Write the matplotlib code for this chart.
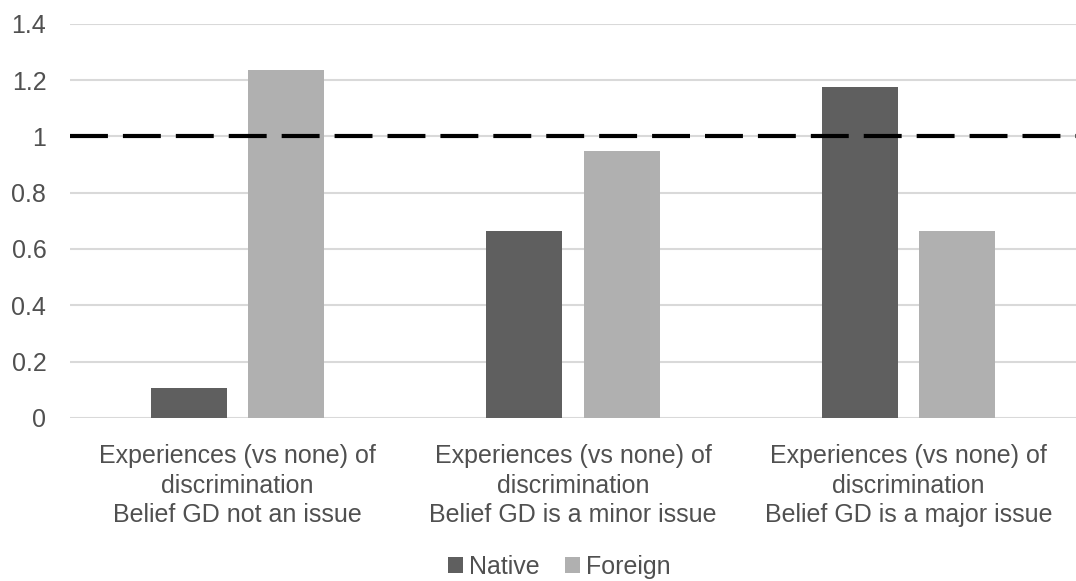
import matplotlib.pyplot as plt
import numpy as np

plt.rcParams['font.family'] = ['Liberation Sans', 'DejaVu Sans']

categories = ['Experiences (vs none) of\ndiscrimination\nBelief GD not an issue',
              'Experiences (vs none) of\ndiscrimination\nBelief GD is a minor issue',
              'Experiences (vs none) of\ndiscrimination\nBelief GD is a major issue']
native = [0.108, 0.664, 1.176]
foreign = [1.236, 0.948, 0.664]
ref_value = 1.0
yticks = [0, 0.2, 0.4, 0.6, 0.8, 1, 1.2, 1.4]
ytick_labels = ['0', '0.2', '0.4', '0.6', '0.8', '1', '1.2', '1.4']

txt = '#505050'

fig = plt.figure(figsize=(10.76, 5.81), dpi=100)
ax = fig.add_axes([0.065, 0.2806, 0.935, 0.6786])

x = np.arange(len(categories))
w = 0.227
ax.bar(x - 0.145, native, w, color='#5f5f5f', label='Native', zorder=3)
ax.bar(x + 0.145, foreign, w, color='#b0b0b0', label='Foreign', zorder=3)

line = ax.axhline(ref_value, color='black', lw=3, zorder=4)
line.set_dashes((9.1, 3.6))

ax.set_xlim(-0.5, 2.5)
ax.set_ylim(0, 1.4)
ax.set_yticks(yticks)
ax.set_yticklabels(ytick_labels)
ax.set_xticks(x)
ax.set_xticklabels(categories, linespacing=1.28)
ax.tick_params(axis='both', length=0, labelsize=18, colors=txt)
ax.tick_params(axis='x', pad=19)
ax.tick_params(axis='y', pad=17)
ax.grid(axis='y', color='#d9d9d9', lw=1.5, zorder=0)
for s in ax.spines.values():
    s.set_visible(False)

fig.legend(loc='lower center', bbox_to_anchor=(0.52, -0.035), ncol=2, frameon=False,
           fontsize=18, handlelength=0.6, handleheight=0.6, handletextpad=0.25,
           columnspacing=1.0, labelcolor=txt)

fig.savefig('out.png', dpi=100)
